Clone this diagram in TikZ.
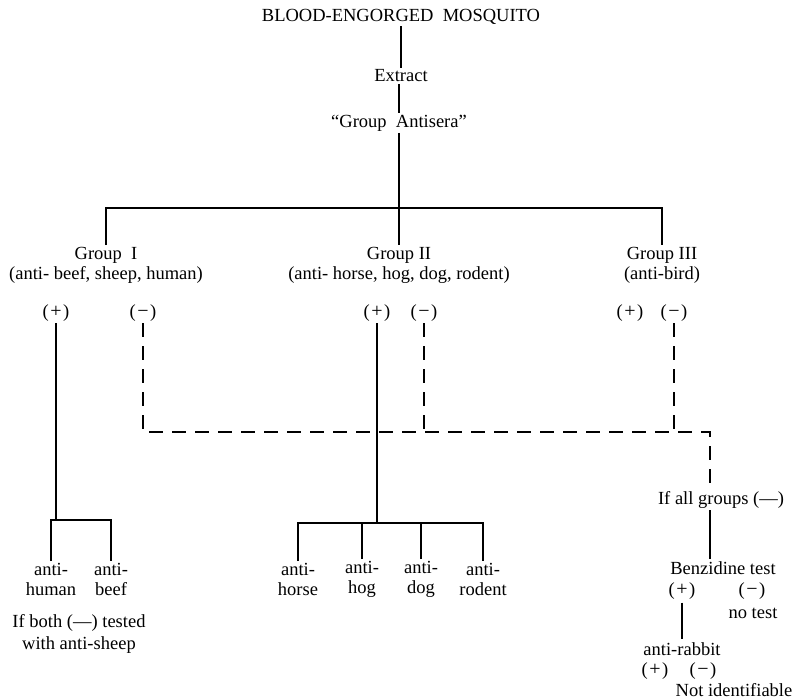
\documentclass[tikz,border=0pt]{standalone}
\usepackage{fontspec}
\setmainfont{Liberation Serif}
\newcommand{\pos}{(\kern1.5pt{\fontsize{20}{20}\selectfont +}\kern1.5pt)}
\newcommand{\nega}{(\kern1.5pt{\fontsize{20}{20}\selectfont −}\kern1.5pt)}

\begin{document}
\begin{tikzpicture}[x=1pt,y=-1pt,
    lbl/.style={inner sep=1.5pt,align=center,font=\fontsize{18.5}{20}\selectfont},
    tight/.style={lbl,inner sep=0pt},
    link/.style={line width=2.5pt},
    neglink/.style={line width=2.2pt,dash pattern=on 14pt off 9pt}]
    \useasboundingbox (0,0) rectangle (799,700);
    % top of the scheme
    \node[lbl] (mosq)     at (401,17)  {BLOOD-ENGORGED\ \ MOSQUITO};
    \node[lbl] (extract)  at (401,76)  {Extract};
    \node[lbl] (antisera) at (399,123) {``Group\ \ Antisera''};
    \draw[link] (mosq) -- (extract);
    \draw[link] (extract.south -| antisera) -- (antisera);

    % the three groups
    \node[lbl] (g1) at (106,265) {Group\ \ I\\(anti- beef, sheep, human)};
    \node[lbl] (g2) at (399,265) {Group II\\(anti- horse, hog, dog, rodent)};
    \node[lbl] (g3) at (662,265) {Group III\\(anti-bird)};
    \coordinate (split) at (399,208);
    \draw[link] (antisera) -- (g2);
    \draw[link] (g1.north) |- (split) -| (g3.north);

    \node[lbl] (g1p) at (56,313)  {\pos};
    \node[lbl] (g1m) at (143,313) {\nega};
    \node[lbl] (g2p) at (377,313) {\pos};
    \node[lbl] (g2m) at (424,313) {\nega};
    \node[lbl] (g3p) at (630,313) {\pos};
    \node[lbl] (g3m) at (674,313) {\nega};

    % group I positive
    \coordinate (fork1) at (56,520);
    \node[lbl] (human) at (51,579)  {anti-\\human};
    \node[lbl] (beef)  at (111,579) {anti-\\beef};
    \node[lbl] (sheep) at (79,634)  {If both (—) tested\\[2pt]with anti-sheep};
    \draw[link] (g1p) -- (fork1);
    \draw[link] (human.north) |- (fork1) -| (beef.north);

    % group II positive
    \coordinate (fork2) at (377,523);
    \node[lbl] (horse)  at (298,579) {anti-\\horse};
    \node[lbl] (hog)    at (362,579) {anti-\\hog};
    \node[lbl] (dog)    at (421,579) {anti-\\dog};
    \node[lbl] (rodent) at (483,579) {anti-\\rodent};
    \draw[link] (g2p) -- (fork2);
    \draw[link] (horse.north) |- (fork2) -| (rodent.north);
    \draw[link] (hog.north) -- (hog.north |- fork2);
    \draw[link] (dog.north) -- (dog.north |- fork2);

    % all groups negative
    \coordinate (dl) at (143,432);
    \coordinate (dr) at (710,432);
    \node[lbl] (allneg) at (721,500) {If all groups (—)};
    \draw[neglink] (g1m) -- (dl) -- (dr) -- (dr |- allneg.north);
    \draw[neglink] (g2m) -- (g2m |- dl);
    \draw[neglink] (g3m) -- (g3m |- dl);

    % benzidine test
    \node[tight] (benz)   at (723,568) {Benzidine test};
    \node[tight] (bplus)  at (682,591) {\pos};
    \node[tight] (bminus) at (752,591) {\nega};
    \node[tight] (notest) at (753,613) {no test};
    \draw[link] (allneg.south -| dr) -- ([yshift=2pt]benz.north -| dr);

    \node[tight] (rabbit) at (682,649) {anti-rabbit};
    \node[tight] (rplus)  at (655,671) {\pos};
    \node[tight] (rminus) at (703,671) {\nega};
    \node[tight] (notid)  at (734,690) {Not identifiable};
    \draw[link] ([yshift=-3pt]bplus.south) -- ([yshift=3pt]rabbit.north);
\end{tikzpicture}
\end{document}
